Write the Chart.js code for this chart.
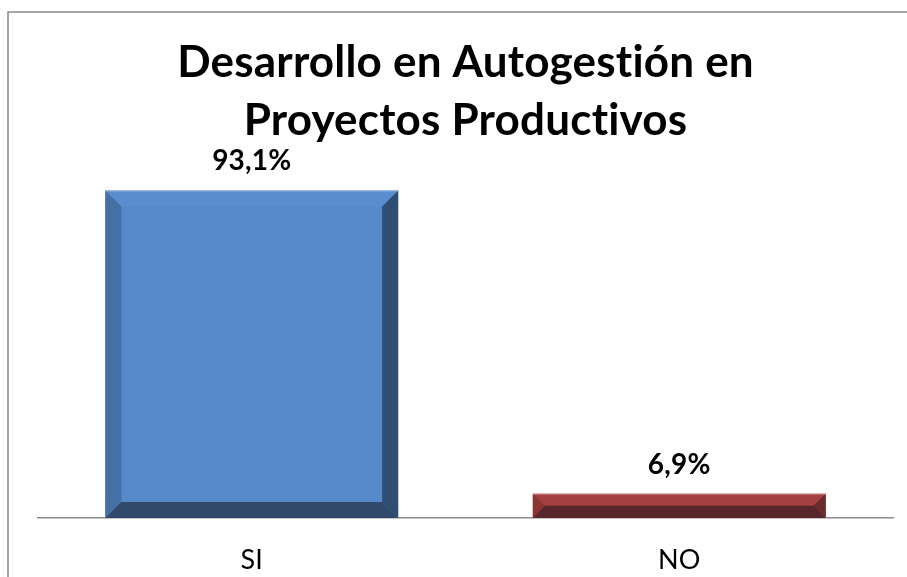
<!DOCTYPE html>
<html>
<head>
<meta charset="utf-8">
<script src="https://cdn.jsdelivr.net/npm/chart.js@4.4.1/dist/chart.umd.min.js"></script>
<style>
html,body{margin:0;padding:0;background:#fff;}
#wrap{position:relative;width:907px;height:577px;}
</style>
</head>
<body>
<div id="wrap"><canvas id="c" width="907" height="577"></canvas></div>
<script>
const titleLines = ["Desarrollo en Autogestión en", "Proyectos Productivos"];
const categories = ["SI", "NO"];
const values = [93.1, 6.9];
const valueLabels = ["93,1%", "6,9%"];

const faceColors = ["#5689C9", "#A33E3E"];
const bevelColors = [
  {top:"#5A8DCD", left:"#4670A5", right:"#2F4E74", bottom:"#31496B"},
  {top:"#A43F3F", left:"#8A3434", right:"#6A2B2B", bottom:"#56262A"}
];

function plainText(ctx) {
  if ("textRendering" in ctx) ctx.textRendering = "optimizeSpeed";
  if ("letterSpacing" in ctx) ctx.letterSpacing = "0.2px";
}

const frame = {
  id: "frame",
  beforeInit(chart) { plainText(chart.ctx); },
  beforeDraw(chart) {
    const ctx = chart.ctx;
    plainText(ctx);
    ctx.save();
    ctx.fillStyle = "#fff";
    ctx.fillRect(0, 0, chart.width, chart.height);
    ctx.strokeStyle = "#8a8a8a";
    ctx.lineWidth = 1.5;
    ctx.strokeRect(8, 12, chart.width + 20, chart.height + 20);
    ctx.restore();
  }
};

const bevel = {
  id: "bevel",
  afterDatasetsDraw(chart) {
    const ctx = chart.ctx;
    const meta = chart.getDatasetMeta(0);
    meta.data.forEach((bar, i) => {
      const p = bar.getProps(["x", "y", "base", "width"], true);
      const l = p.x - p.width / 2, r = p.x + p.width / 2;
      const t = Math.min(p.y, p.base), b = Math.max(p.y, p.base);
      const h = b - t;
      const d = Math.min(16, h / 2, p.width / 2);
      const c = bevelColors[i];
      const poly = (pts, col) => {
        ctx.beginPath();
        ctx.moveTo(pts[0][0], pts[0][1]);
        for (let k = 1; k < pts.length; k++) ctx.lineTo(pts[k][0], pts[k][1]);
        ctx.closePath();
        ctx.fillStyle = col;
        ctx.fill();
      };
      ctx.save();
      poly([[l, t], [r, t], [r - d, t + d], [l + d, t + d]], c.top);
      poly([[l, t], [l + d, t + d], [l + d, b - d], [l, b]], c.left);
      poly([[r, t], [r, b], [r - d, b - d], [r - d, t + d]], c.right);
      poly([[l, b], [l + d, b - d], [r - d, b - d], [r, b]], c.bottom);
      ctx.strokeStyle = "rgba(255,255,255,0.35)";
      ctx.lineWidth = 1;
      ctx.beginPath();
      ctx.moveTo(l, t + 0.5);
      ctx.lineTo(r, t + 0.5);
      ctx.stroke();
      ctx.fillStyle = "#000";
      ctx.font = "bold 28px Lato";
      ctx.textAlign = "center";
      ctx.textBaseline = "alphabetic";
      ctx.fillText(valueLabels[i], p.x, t - 20);
      ctx.restore();
    });
  }
};

new Chart(document.getElementById("c"), {
  type: "bar",
  data: {
    labels: categories,
    datasets: [{
      data: values,
      backgroundColor: faceColors,
      borderWidth: 0,
      barPercentage: 0.685,
      categoryPercentage: 1
    }]
  },
  options: {
    responsive: false,
    animation: false,
    devicePixelRatio: 1,
    layout: { padding: { left: 38, right: 14, top: 24, bottom: 0 } },
    plugins: {
      legend: { display: false },
      tooltip: { enabled: false },
      title: {
        display: true,
        text: titleLines,
        color: "#000",
        font: { family: "Lato", size: 44, weight: "bold", lineHeight: 1.32 },
        padding: { top: 10, bottom: 16 }
      }
    },
    scales: {
      x: {
        grid: { display: false, drawTicks: false },
        border: { display: true, color: "#8c8c8c", width: 1.5 },
        ticks: { color: "#000", font: { family: "Lato", size: 27 }, padding: 26 },
        afterFit(scale) { scale.height = 59; }
      },
      y: {
        display: false,
        min: 0,
        max: 100
      }
    }
  },
  plugins: [frame, bevel]
});
</script>
</body>
</html>
